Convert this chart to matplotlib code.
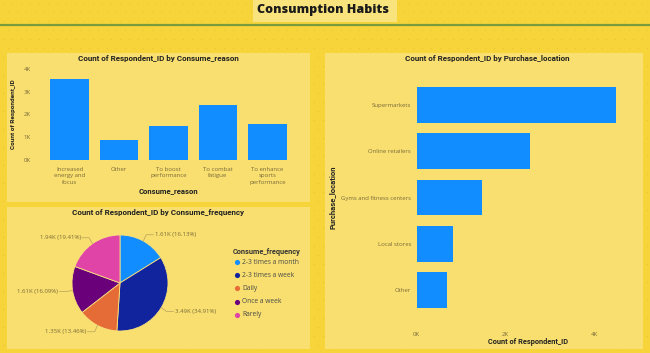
import numpy as np
import matplotlib
matplotlib.use("Agg")
import matplotlib.pyplot as plt
from matplotlib.patches import Rectangle
from matplotlib import font_manager

# ---------------- data ----------------
reason_cats = ["Increased\nenergy and\nfocus", "Other", "To boost\nperformance", "To combat\nfatigue", "To enhance\nsports\nperformance"]
reason_vals = [3560, 880, 1510, 2420, 1600]
reason_ticks = [0, 1000, 2000, 3000, 4000]
reason_ticklabels = ["0K", "1K", "2K", "3K", "4K"]

freq_cats = ["2-3 times a month", "2-3 times a week", "Daily", "Once a week", "Rarely"]
freq_vals = [1613, 3491, 1346, 1609, 1941]

loc_cats = ["Supermarkets", "Online retailers", "Gyms and fitness centers", "Local stores", "Other"]
loc_vals = [4480, 2550, 1460, 810, 680]
loc_ticks = [0, 2000, 4000]
loc_ticklabels = ["0K", "2K", "4K"]

# ---------------- style ----------------
W, H = 650, 353
BG = "#F7D53A"
PANEL = "#F9E27C"
BLUE = "#118DFF"
PIE_COLORS = ["#118DFF", "#12239E", "#E66C37", "#6B007B", "#E044A7"]
TICK_C = "#7a6a3a"
TXT = "#222222"
names = {f.name for f in font_manager.fontManager.ttflist}
NARROW = ["Liberation Sans Narrow", "DejaVu Sans"] if "Liberation Sans Narrow" in names else ["Roboto", "DejaVu Sans"]
LIGHT = ["Open Sans", "DejaVu Sans"]
plt.rcParams["font.family"] = LIGHT

fig = plt.figure(figsize=(W / 100, H / 100), dpi=100, facecolor=BG)


def box(x0, y0, x1, y1):
    """pixel box (top-left origin) -> figure coords"""
    return [x0 / W, 1 - y1 / H, (x1 - x0) / W, (y1 - y0) / H]


# background layer with dots and panels
bg = fig.add_axes([0, 0, 1, 1], zorder=-10)
bg.set_xlim(0, W)
bg.set_ylim(H, 0)
bg.axis("off")
gx, gy = np.meshgrid(np.arange(3, W, 9), np.arange(3, H, 9))
gx = gx + (np.arange(gy.shape[0])[:, None] % 2) * 4.5
bg.scatter(gx.ravel(), gy.ravel(), s=0.6, color="#d9a830", alpha=0.45, linewidths=0)
for (x0, y0, x1, y1) in [(7, 53, 310, 202), (7, 207, 310, 349), (325, 53, 643, 349)]:
    bg.add_patch(Rectangle((x0, y0), x1 - x0, y1 - y0, facecolor=PANEL, edgecolor="none", alpha=0.82))
bg.add_patch(Rectangle((253, 0), 144, 22, facecolor="#FAE585", edgecolor="none", alpha=0.9))
bg.plot([0, W], [25, 25], color="#7B9A3C", lw=1.6)
bg.text(323, 10, "Consumption Habits", ha="center", va="center", fontsize=9.0,
        fontweight="heavy", color="#1a1a1a", family=["Open Sans", "DejaVu Sans"])

# ---------------- consume reason bar chart ----------------
ax1 = fig.add_axes(box(45, 69, 292, 160))
x = np.arange(len(reason_cats))
ax1.bar(x, reason_vals, width=0.78, color=BLUE)
ax1.set_xlim(-0.5, len(reason_cats) - 0.5)
ax1.set_ylim(0, 4000)
ax1.set_yticks(reason_ticks)
ax1.set_yticklabels(reason_ticklabels, fontsize=4.3, color=TICK_C)
ax1.set_xticks(x)
ax1.set_xticklabels(reason_cats, fontsize=4.3, color=TICK_C, linespacing=1.35)
ax1.tick_params(length=0, pad=5)
ax1.tick_params(axis="y", pad=10)
ax1.set_facecolor("none")
for s in ax1.spines.values():
    s.set_visible(False)
ax1.set_ylabel("Count of Respondent_ID", fontsize=4.6, fontweight="bold", color=TXT, labelpad=6,
               family=NARROW)
ax1.set_xlabel("Consume_reason", fontsize=5.5, fontweight="bold", color=TXT, labelpad=2, family=NARROW)
fig.text(158 / W, 1 - 58 / H, "Count of Respondent_ID by Consume_reason", ha="center", va="center",
         fontsize=5.8, fontweight="bold", color=TXT, family=NARROW)

# ---------------- consume frequency pie ----------------
ax2 = fig.add_axes(box(60, 223, 180, 343))
ax2.set_facecolor("none")
wedges, _ = ax2.pie(freq_vals, colors=PIE_COLORS, startangle=90, counterclock=False,
                    radius=0.8, wedgeprops=dict(linewidth=0.6, edgecolor=PANEL))
ax2.set_xlim(-1, 1)
ax2.set_ylim(-1, 1)
ax2.set_aspect("equal")
total = sum(freq_vals)
for w, v in zip(wedges, freq_vals):
    ang = np.deg2rad((w.theta1 + w.theta2) / 2)
    cx, cy = np.cos(ang), np.sin(ang)
    edge = (0.8 * cx, 0.8 * cy)
    elbow = (0.9 * cx, 0.92 * cy)
    side = 1 if cx >= 0 else -1
    tx = elbow[0] + side * 0.12
    ax2.plot([edge[0], elbow[0], tx], [edge[1], elbow[1], elbow[1]], color="#b8a060", lw=0.5, clip_on=False)
    ax2.text(tx + side * 0.02, elbow[1], f"{v/1000:.2f}K ({100*v/total:.2f}%)", fontsize=4.3,
             color=TICK_C, ha="left" if side > 0 else "right", va="center", clip_on=False)
fig.text(158 / W, 1 - 213 / H, "Count of Respondent_ID by Consume_frequency", ha="center", va="center",
         fontsize=5.8, fontweight="bold", color=TXT, family=NARROW)

# legend
fig.text(233 / W, 1 - 252 / H, "Consume_frequency", ha="left", va="center", fontsize=5.3,
         fontweight="bold", color="#333333", family=NARROW)
for i, (c, col) in enumerate(zip(freq_cats, PIE_COLORS)):
    yy = 262 + i * 13.2
    bg.scatter([237], [yy], s=14, color=col, linewidths=0)
    fig.text(242 / W, 1 - yy / H, c, ha="left", va="center", fontsize=4.8, color="#4a4a4a")

# ---------------- purchase location bar chart ----------------
ax3 = fig.add_axes(box(416.7, 81.8, 639, 313.5))
y = np.arange(len(loc_cats))
ax3.barh(y, loc_vals, height=0.77, color=BLUE)
ax3.set_ylim(len(loc_cats) - 0.5, -0.5)
ax3.set_xlim(0, 5000)
ax3.set_yticks(y)
ax3.set_yticklabels(loc_cats, fontsize=4.3, color=TICK_C)
ax3.set_xticks(loc_ticks)
ax3.set_xticklabels(loc_ticklabels, fontsize=4.3, color=TICK_C)
ax3.tick_params(length=0, pad=4)
ax3.tick_params(axis="x", pad=13)
ax3.set_facecolor("none")
for s in ax3.spines.values():
    s.set_visible(False)
ax3.set_xlabel("Count of Respondent_ID", fontsize=5.3, fontweight="bold", color=TXT, labelpad=1,
               family=NARROW)
fig.text(332 / W, 1 - 197 / H, "Purchase_location", ha="center", va="center", rotation=90,
         fontsize=5.5, fontweight="bold", color=TXT, family=NARROW)
fig.text(487 / W, 1 - 58 / H, "Count of Respondent_ID by Purchase_location", ha="center", va="center",
         fontsize=5.8, fontweight="bold", color=TXT, family=NARROW)

fig.savefig("out.png", dpi=100, facecolor=BG)
